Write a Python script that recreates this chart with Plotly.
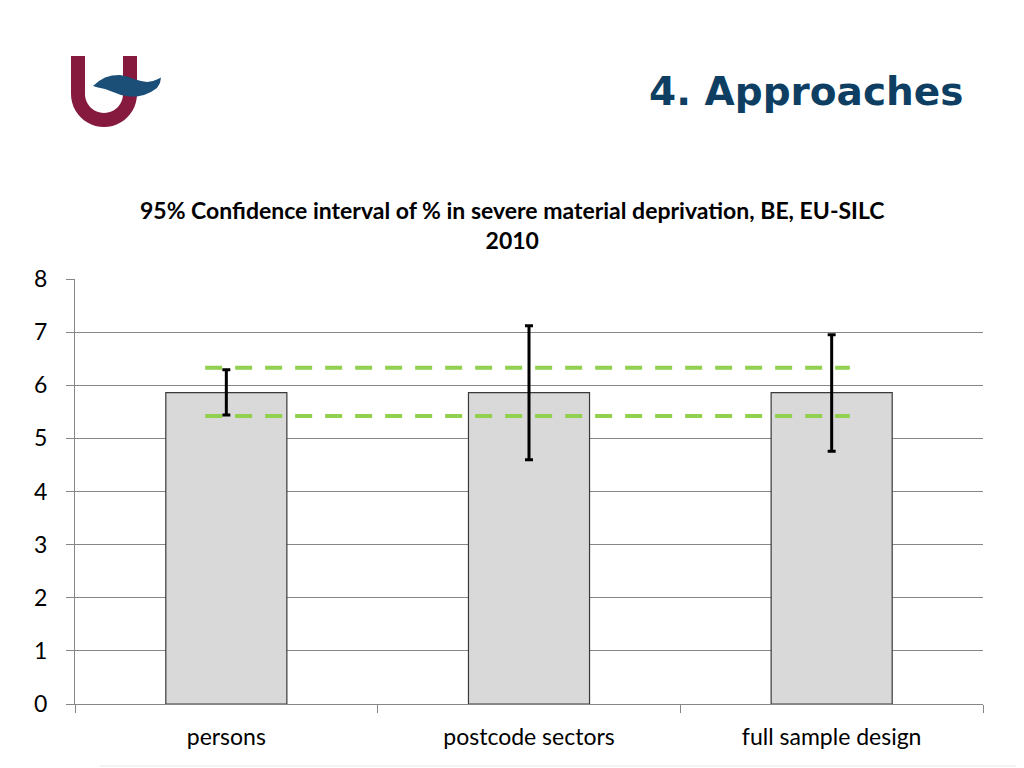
import plotly.graph_objects as go
import math

# ---- data ----
categories = ["persons", "postcode sectors", "full sample design"]
estimate = [5.86, 5.86, 5.86]
ci_upper = [6.29, 7.12, 6.95]
ci_lower = [5.44, 4.60, 4.76]
ref_lines = [6.33, 5.42]          # green dashed reference levels (persons CI)
ref_extent = [-0.07, 2.06]        # category-index span of the reference lines
y_ticks = [0, 1, 2, 3, 4, 5, 6, 7, 8]

title_text = "95% Confidence interval of % in severe material deprivation, BE, EU-SILC<br>2010"
slide_title = "4. Approaches"

OFF = 8                     # page body offset of the figure
W, H = 1024 - OFF, 768 - OFF
# plot area in screen pixels: x 75..983, y 279..704
SL, SR, ST, SB = 75, 983, 279, 704
L, T = SL - OFF, ST - OFF
R = W - (SR - OFF)
B = H - (SB - OFF)
PW, PH = SR - SL, SB - ST


def px(x, y):
    """screen pixel -> paper coords"""
    return (x - SL) / PW, (SB - y) / PH


def path(points):
    s = ""
    for i, p in enumerate(points):
        X, Y = px(*p)
        s += ("M" if i == 0 else "L") + f"{X:.5f},{Y:.5f} "
    return s + "Z"


err_plus = [u - e for u, e in zip(ci_upper, estimate)]
err_minus = [e - l for e, l in zip(estimate, ci_lower)]

fig = go.Figure()
fig.add_trace(go.Bar(
    x=categories, y=estimate,
    marker=dict(color="#D9D9D9", line=dict(color="#3A3A3A", width=1.2)),
    error_y=dict(type="data", array=err_plus, arrayminus=err_minus,
                 color="black", thickness=3, width=4),
    showlegend=False, hoverinfo="skip",
))

shapes = []
for lvl in ref_lines:
    shapes.append(dict(type="line", xref="x", yref="y",
                       x0=ref_extent[0], x1=ref_extent[1], y0=lvl, y1=lvl,
                       line=dict(color="#92D050", width=4, dash="17px,13px"),
                       layer="above"))

# ---- logo (U with wave) ----
maroon = "#861A3E"
blue = "#1C4F78"
cx, top, ybend = 104, 56, 94
ro, ri = 33, 19
pts = [(cx - ro, top), (cx - ri, top), (cx - ri, ybend)]
for k in range(0, 25):
    a = math.pi - k * math.pi / 24
    pts.append((cx + ri * math.cos(a), ybend + ri * math.sin(a)))
pts += [(cx + ri, top), (cx + ro, top)]
for k in range(0, 25):
    a = k * math.pi / 24
    pts.append((cx + ro * math.cos(a), ybend + ro * math.sin(a)))
shapes.append(dict(type="path", xref="paper", yref="paper", path=path(pts),
                   fillcolor=maroon, line=dict(width=0), layer="above"))

wave = [(93, 86), (99, 81), (105, 77.5), (112, 75.5), (120, 75), (127, 76.5), (134, 79),
        (141, 81), (147, 82), (153, 81), (158, 79), (161, 77.5), (160, 83), (157, 88),
        (151, 92), (144, 95), (137, 96.5), (129, 96.5), (121, 95), (113, 92),
        (105, 89), (98, 87.5)]
shapes.append(dict(type="path", xref="paper", yref="paper", path=path(wave),
                   fillcolor=blue, line=dict(width=0), layer="above"))

# faint footer line
fx0, fy0 = px(100, 766)
fx1, _ = px(1024, 766)
shapes.append(dict(type="line", xref="paper", yref="paper", x0=fx0, x1=fx1, y0=fy0, y1=fy0,
                   line=dict(color="#E6E6E6", width=1)))

tx, ty = px(965, 91)
ttx, tty = px(512, 225)
annotations = [
    dict(text=f"<b>{slide_title}</b>", xref="paper", yref="paper", x=tx, y=ty,
         xanchor="right", yanchor="middle", showarrow=False,
         font=dict(family="DejaVu Sans", size=39, color="#0E3F63")),
    dict(text=f"<b>{title_text}</b>", xref="paper", yref="paper", x=ttx, y=tty,
         xanchor="center", yanchor="middle", showarrow=False,
         font=dict(family="Lato", size=23, color="black")),
]

fig.update_layout(
    width=W, height=H,
    margin=dict(l=L, r=R, t=T, b=B, pad=0),
    paper_bgcolor="white", plot_bgcolor="white",
    bargap=0.6,
    shapes=shapes, annotations=annotations,
    font=dict(family="Lato", color="black"),
    xaxis=dict(type="category", range=[-0.5, 2.5], tickson="boundaries",
               ticks="outside", ticklen=8, tickcolor="#868686", tickwidth=1,
               showline=True, linecolor="#868686", linewidth=1,
               showgrid=False, tickfont=dict(size=23, family="Lato"),
               ticklabelstandoff=12, fixedrange=True),
    yaxis=dict(range=[0, 8], tickvals=y_ticks, ticks="outside", ticklen=8,
               tickcolor="#868686", showline=True, linecolor="#868686",
               showgrid=True, gridcolor="#868686", gridwidth=1, zeroline=False,
               tickfont=dict(size=23, family="Lato"), ticklabelstandoff=14),
)

fig.write_html("out.html")
